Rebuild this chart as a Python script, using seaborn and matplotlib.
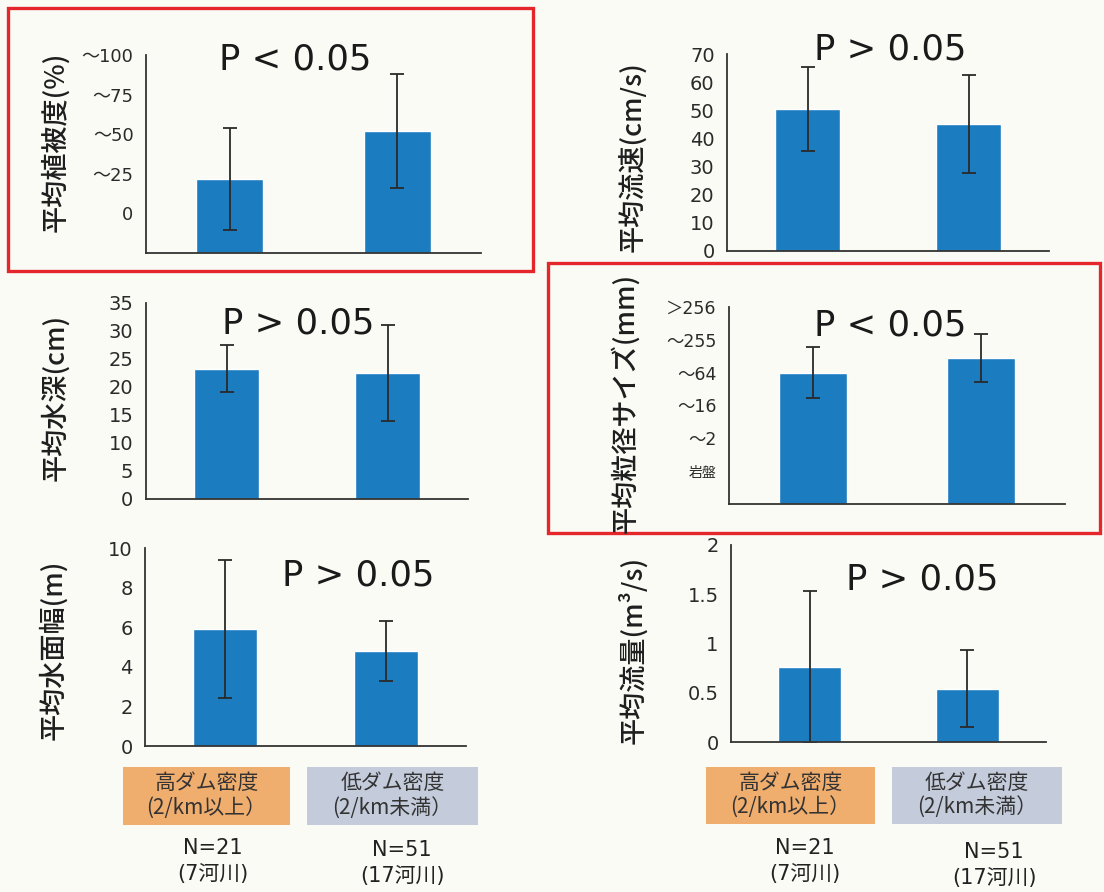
import matplotlib
matplotlib.use("Agg")
import matplotlib.pyplot as plt
from matplotlib.patches import Rectangle
import seaborn as sns

sns.set_theme(style="white")
plt.rcParams['font.family'] = ['DejaVu Sans', 'Noto Sans CJK JP']

W, H = 1104, 892
BAR = "#1B7CC0"
INK = "#2a2a2a"
CJK = ['Noto Sans CJK JP', 'DejaVu Sans']

groups = ["高ダム密度", "低ダム密度"]
group_labels = ["高ダム密度\n(2/km以上）", "低ダム密度\n(2/km未満）"]
n_labels = ["N=21\n(7河川)", "N=51\n(17河川)"]

# vegetation cover: ordinal class scale (tick index 1..5)
veg_mean = [1.87, 3.07]
veg_err = [1.28, 1.44]
veg_ticks = [1, 2, 3, 4, 5]
veg_ticklabels = ["0", "～25", "～50", "～75", "～100"]

# velocity (cm/s)
vel_mean = [50.5, 45.0]
vel_err = [15.0, 17.4]

# depth (cm)
depth_mean = [23.3, 22.5]
depth_err = [4.2, 8.5]

# grain size: ordinal class scale (tick index 1..6)
grain_mean = [4.0, 4.45]
grain_err = [0.77, 0.73]
grain_ticks = [1, 2, 3, 4, 5, 6]
grain_ticklabels = ["岩盤", "～2", "～16", "～64", "～255", "＞256"]

# wetted width (m)
width_mean = [5.9, 4.8]
width_err = [3.5, 1.5]

# discharge (m3/s)
flow_mean = [0.76, 0.54]
flow_err = [0.77, 0.39]

fig = plt.figure(figsize=(W / 100, H / 100), dpi=100)
fig.patch.set_facecolor("#FBFBF6")


def fx(x):
    return x / W


def fy(y):
    return 1 - y / H


def panel(l, t, r, b, means, errs, ylim, ticks, ticklabels, ylabel, lab_x, lab_y,
          ptext, px, py, tick_size=14):
    ax = fig.add_axes([fx(l), fy(b), (r - l) / W, (b - t) / H])
    ax.set_facecolor("none")
    sns.barplot(x=groups, y=means, ax=ax, color=BAR, width=0.4, saturation=1,
                errorbar=None)
    ax.errorbar(x=[0, 1], y=means, yerr=errs, fmt="none", ecolor=INK,
                elinewidth=1.3, capsize=5, capthick=1.3)
    ax.set_xlim(-0.5, 1.5)
    ax.set_ylim(*ylim)
    ax.set_xticks([-0.5, 0.5, 1.5])
    ax.set_xticklabels([])
    ax.set_yticks(ticks)
    ax.set_yticklabels(ticklabels)
    for lbl in ax.get_yticklabels():
        lbl.set_fontsize(tick_size)
        lbl.set_color(INK)
    ax.set_xlabel("")
    ax.set_ylabel("")
    for s in ["top", "right"]:
        ax.spines[s].set_visible(False)
    for s in ["left", "bottom"]:
        ax.spines[s].set_color("#333333")
        ax.spines[s].set_linewidth(1.3)
    ax.tick_params(axis="y", direction="out", length=6, width=1.2, color="#333333", pad=3)
    ax.tick_params(axis="x", direction="out", length=7, width=1.2, color="#333333")
    fig.text(fx(lab_x), fy(lab_y), ylabel, rotation=90, ha="center", va="center",
             fontsize=19.5, color="#1e1e1e", family=CJK, fontweight="medium")
    fig.text(fx(px), fy(py), ptext, ha="center", va="center", fontsize=25.5, color="#1a1a1a")
    return ax


ax1 = panel(146, 55, 481, 253, veg_mean, veg_err, (0, 5), veg_ticks, veg_ticklabels,
            "平均植被度(%)", 55, 142, "P < 0.05", 295, 60, tick_size=13)
ax2 = panel(727, 54, 1049, 251, vel_mean, vel_err, (0, 70), range(0, 71, 10),
            [str(v) for v in range(0, 71, 10)], "平均流速(cm/s)", 632, 157,
            "P > 0.05", 890, 50)
ax3 = panel(146, 303, 468, 499, depth_mean, depth_err, (0, 35), range(0, 36, 5),
            [str(v) for v in range(0, 36, 5)], "平均水深(cm)", 55, 397,
            "P > 0.05", 298, 323)
ax4 = panel(729, 307, 1065, 504, grain_mean, grain_err, (0, 6), grain_ticks,
            grain_ticklabels, "平均粒径サイズ(mm)", 625, 403, "P < 0.05", 890, 325,
            tick_size=12.5)
ax4.get_yticklabels()[0].set_fontsize(10)
ax5 = panel(145, 548, 466, 746, width_mean, width_err, (0, 10), range(0, 11, 2),
            [str(v) for v in range(0, 11, 2)], "平均水面幅(m)", 53, 650,
            "P > 0.05", 358, 576)
ax6 = panel(731, 545, 1046, 742, flow_mean, flow_err, (0, 2), [0, 0.5, 1, 1.5, 2],
            ["0", "0.5", "1", "1.5", "2"], "平均流量(m³/s)", 633, 650,
            "P > 0.05", 922, 580)

# red highlight frames
for (l, t, r, b) in [(8, 8, 533, 271), (548, 263, 1100, 533)]:
    fig.patches.append(Rectangle((fx(l), fy(b)), (r - l) / W, (b - t) / H,
                                 transform=fig.transFigure, fill=False,
                                 edgecolor="#E5262B", linewidth=2.4))

# group label boxes under the bottom panels
box_colors = ["#EFAD6E", "#C4CCDC"]
box_sets = [
    [(123, 767, 290, 825), (307, 767, 478, 825)],
    [(706, 767, 875, 824), (892, 767, 1062, 824)],
]
n_pos = [[(213, 861), (402, 863)], [(805, 861), (994, 865)]]
for boxes, npos in zip(box_sets, n_pos):
    for (l, t, r, b), col, glabel, nlabel, (nx, ny) in zip(boxes, box_colors,
                                                           group_labels, n_labels, npos):
        fig.patches.append(Rectangle((fx(l), fy(b)), (r - l) / W, (b - t) / H,
                                     transform=fig.transFigure, facecolor=col,
                                     edgecolor="none"))
        fig.text(fx((l + r) / 2), fy((t + b) / 2), glabel, ha="center", va="center",
                 fontsize=15, color="#333333", linespacing=1.2, family=CJK)
        fig.text(fx(nx), fy(ny), nlabel, ha="center", va="center", fontsize=15,
                 color="#222222", linespacing=1.35,
                 family=['DejaVu Sans', 'Noto Sans CJK JP'])

fig.savefig("out.png", dpi=100, facecolor=fig.get_facecolor())
